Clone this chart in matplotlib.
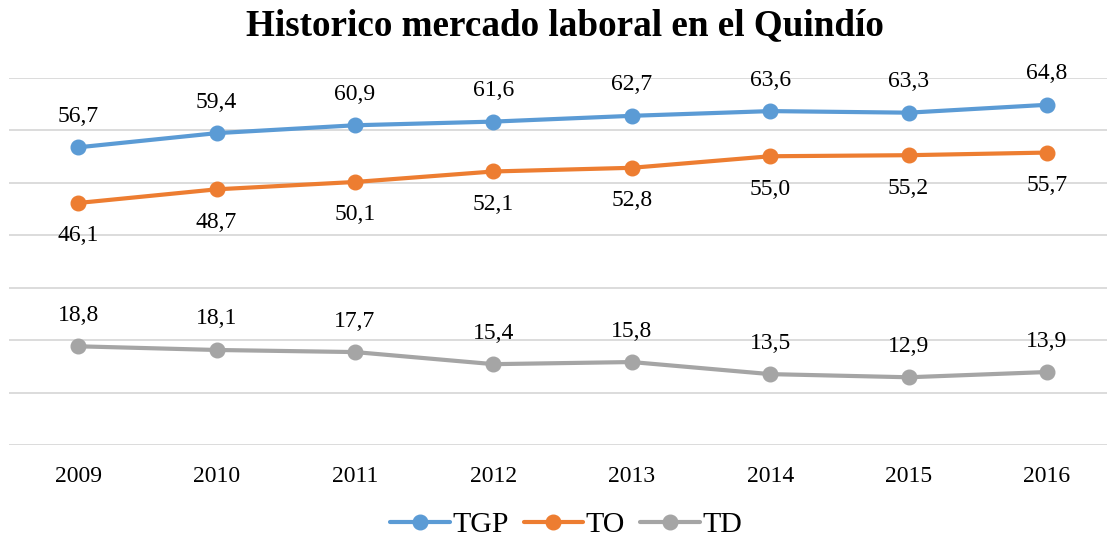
import matplotlib
matplotlib.use("Agg")
import matplotlib.pyplot as plt

years = ["2009", "2010", "2011", "2012", "2013", "2014", "2015", "2016"]
tgp = [56.7, 59.4, 60.9, 61.6, 62.7, 63.6, 63.3, 64.8]
to = [46.1, 48.7, 50.1, 52.1, 52.8, 55.0, 55.2, 55.7]
td = [18.8, 18.1, 17.7, 15.4, 15.8, 13.5, 12.9, 13.9]

series = [("TGP", tgp, "#5B9BD5", 31), ("TO", to, "#ED7D31", -33), ("TD", td, "#A5A5A5", 31)]

plt.rcParams["font.family"] = ["Liberation Serif", "DejaVu Serif"]

W, H = 1107, 539
fig = plt.figure(figsize=(W / 100, H / 100), dpi=100)
left = 9 / W
right_px = 9 + 8 * 138.4
ax = fig.add_axes([left, (H - 445) / H, (right_px - 9) / W, (445 - 77.5) / H])

x = list(range(len(years)))
for name, vals, col, off in series:
    ax.plot(x, vals, color=col, lw=3, marker="o", markersize=10.5, label=name,
            solid_capstyle="round", zorder=3)
    for xi, v in zip(x, vals):
        ax.annotate(f"{v:.1f}".replace(".", ","), (xi, v), xytext=(0, off * 0.72),
                    textcoords="offset points", ha="center", va="center", fontsize=17)

ax.set_xlim(-0.5, len(years) - 0.5)
ax.set_ylim(0, 70)
ax.set_yticks(range(0, 71, 10))
ax.yaxis.grid(True, color="#D9D9D9", lw=1.3)
ax.set_axisbelow(True)
for s in ax.spines.values():
    s.set_visible(False)
ax.tick_params(axis="y", left=False, labelleft=False)
ax.tick_params(axis="x", length=0, pad=15, labelsize=17)
ax.set_xticks(x)
ax.set_xticklabels(years)

fig.text(565 / W, 1 - 26 / H, "Historico mercado laboral en el Quindío", ha="center", va="center",
         fontsize=26.7, fontweight="bold")

handles, labels = ax.get_legend_handles_labels()
fig.legend(handles, labels, loc="center", bbox_to_anchor=(566 / W, 1 - 525 / H), ncol=3,
           frameon=False, fontsize=21.5, handlelength=2.0, handletextpad=0.08, columnspacing=0.5)

fig.savefig("out.png", dpi=100)
